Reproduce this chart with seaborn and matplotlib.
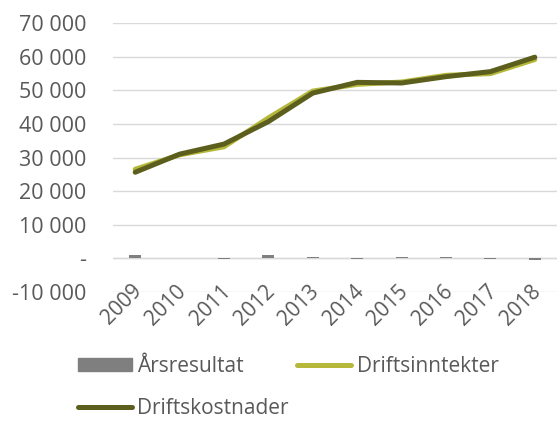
import matplotlib
matplotlib.use("Agg")
import matplotlib.pyplot as plt
import matplotlib.transforms as mtransforms
import seaborn as sns
import numpy as np
import pandas as pd
from matplotlib.patches import Patch
from matplotlib.lines import Line2D
from matplotlib.ticker import FuncFormatter

years = ["2009", "2010", "2011", "2012", "2013", "2014", "2015", "2016", "2017", "2018"]
arsresultat = [800, 0, -300, 900, 300, -200, 300, 200, -300, -600]
driftsinntekter = [26500, 30800, 33200, 41800, 49800, 51800, 52500, 54500, 55000, 59200]
driftskostnader = [25600, 31000, 34000, 40700, 49200, 52400, 52200, 54100, 55600, 59900]
yticks = [-10000, 0, 10000, 20000, 30000, 40000, 50000, 60000, 70000]

sns.set_theme(style="white")
plt.rcParams['font.family'] = ['Open Sans', 'DejaVu Sans']

TXT = "#595959"
C_BAR = "#7f7f7f"
C_INN = "#b5b83a"
C_KOST = "#5c5e1e"

df = pd.DataFrame({"year": years, "pos": np.arange(len(years)),
                   "res": arsresultat, "inn": driftsinntekter, "kost": driftskostnader})

fig = plt.figure(figsize=(5.57, 4.21), dpi=100)
ax = fig.add_axes([113/557, 1-291.7/421, 444/557, (291.7-23.3)/421])

sns.barplot(data=df, x="pos", y="res", color=C_BAR, width=0.27, ax=ax,
            native_scale=True, saturation=1, edgecolor="none")
sns.lineplot(data=df, x="pos", y="inn", color=C_INN, lw=3.6, ax=ax,
             solid_capstyle="round")
sns.lineplot(data=df, x="pos", y="kost", color=C_KOST, lw=3.6, ax=ax,
             solid_capstyle="round")

ax.set_xlim(-0.5, len(years) - 0.5)
ax.set_ylim(-10000, 70000)
ax.set_yticks(yticks)
def fmt(v, p):
    if v == 0:
        return "-"
    s = f"{int(v):,}".replace(",", " ")
    return s
ax.yaxis.set_major_formatter(FuncFormatter(fmt))
ax.grid(axis="y", color="#d9d9d9", lw=1)
ax.set_axisbelow(True)
for s in ax.spines.values():
    s.set_visible(False)
ax.set_xlabel("")
ax.set_ylabel("")
ax.tick_params(axis="y", length=0, pad=19, labelsize=15.5, labelcolor=TXT)
ax.set_xticks(df["pos"])
ax.set_xticklabels(years, rotation=45, ha="right", va="top", rotation_mode="anchor")
ax.tick_params(axis="x", length=0, pad=-8, labelsize=15, labelcolor=TXT)
shift = mtransforms.ScaledTranslation(-4/100, 0, fig.dpi_scale_trans)
for lbl in ax.get_xticklabels():
    lbl.set_transform(lbl.get_transform() + shift)
ax.axhline(0, color="#d9d9d9", lw=1, zorder=0.5)

handles = [Patch(color=C_BAR),
           Line2D([], [], color=C_KOST, lw=3.6, solid_capstyle="round"),
           Line2D([], [], color=C_INN, lw=3.6, solid_capstyle="round")]
labels = ["Årsresultat", "Driftskostnader", "Driftsinntekter"]
fig.legend(handles, labels, ncol=2, loc="upper left", bbox_to_anchor=(78/557, 1-356/421),
           frameon=False, fontsize=15, labelcolor=TXT, handlelength=2.6,
           handletextpad=0.25, columnspacing=0.4, labelspacing=1.0,
           borderpad=0, borderaxespad=0, handleheight=0.6)

fig.savefig("out.png", dpi=100)
